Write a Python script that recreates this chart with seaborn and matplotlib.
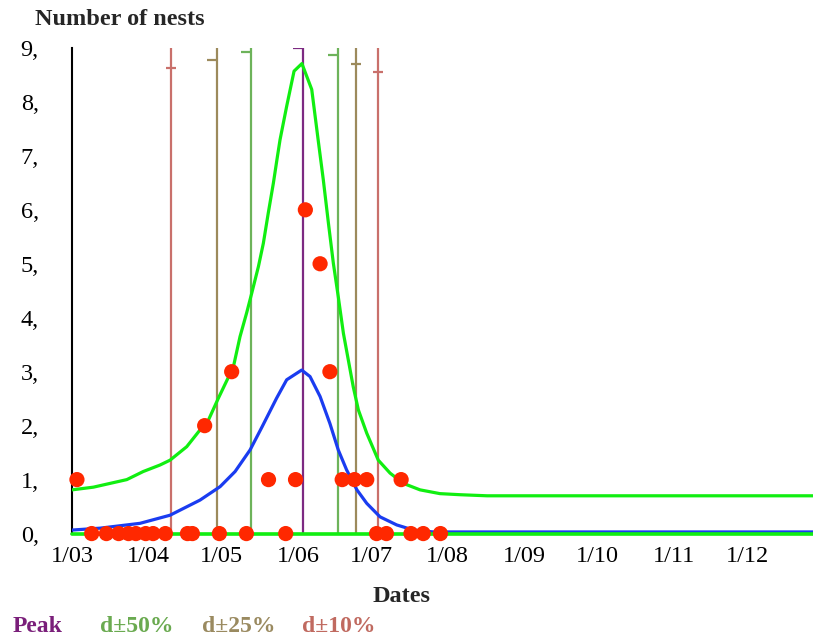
import matplotlib
matplotlib.use('Agg')
import matplotlib.pyplot as plt
import seaborn as sns
import pandas as pd

# jours de l'année (1 = 1er janvier)
tick_days = [60, 91, 121, 152, 182, 213, 244, 274, 305, 335]
tick_labels = ["1/03", "1/04", "1/05", "1/06", "1/07", "1/08", "1/09", "1/10", "1/11", "1/12"]
y_ticks = [0, 1, 2, 3, 4, 5, 6, 7, 8, 9]
y_labels = ["0,", "1,", "2,", "3,", "4,", "5,", "6,", "7,", "8,", "9,"]

# nids observés
obs_days = [68, 74, 79, 83, 86, 90, 93, 98, 107, 109, 120, 131, 147, 184, 188, 198, 203, 210,
            62, 140, 151, 170, 175, 180, 194, 114, 125, 165, 155, 161]
obs_nests = [0, 0, 0, 0, 0, 0, 0, 0, 0, 0, 0, 0, 0, 0, 0, 0, 0, 0,
             1, 1, 1, 1, 1, 1, 1, 2, 3, 3, 6, 5]

# courbe haute (verte)
upper_days = [60, 68.7, 75.5, 82.3, 89.0, 95.8, 99.9, 106.7, 112.1, 115.0, 119.6, 125.7, 128.4,
              131.1, 133.2, 135.9, 137.9, 139.9, 142.0, 143.5, 144.7, 147.4, 150.4, 153.6, 157.6,
              160.2, 162.3, 164.4, 166.4, 168.4, 170.5, 174.5, 176.6, 180.0, 184.7, 189.5, 194.9,
              201.7, 209.8, 218.0, 229.0, 366]
upper_vals = [0.81, 0.86, 0.93, 1.00, 1.15, 1.27, 1.36, 1.61, 1.92, 2.05, 2.51, 3.09, 3.65,
              4.09, 4.46, 4.95, 5.38, 5.94, 6.50, 6.95, 7.30, 7.92, 8.57, 8.71, 8.23,
              7.30, 6.56, 5.75, 5.01, 4.39, 3.71, 2.72, 2.29, 1.86, 1.36, 1.12, 0.93,
              0.81, 0.74, 0.72, 0.70, 0.70]

# courbe moyenne (bleue)
mean_days = [60, 71.4, 82.3, 87.7, 99.9, 112.1, 120.3, 126.4, 132.5, 137.4, 143.3, 147.4, 153.5,
             156.9, 161.0, 165.0, 168.4, 171.8, 176.0, 180.0, 185.4, 192.2, 199.0, 207.1, 366]
mean_vals = [0.065, 0.10, 0.16, 0.19, 0.34, 0.62, 0.87, 1.15, 1.55, 1.98, 2.51, 2.85, 3.03,
             2.91, 2.54, 2.04, 1.55, 1.18, 0.81, 0.56, 0.31, 0.16, 0.065, 0.03, 0.03]

# courbe basse (verte, à zéro)
lower_days = [60, 366]
lower_vals = [0, 0]

# repères : pic et intervalles
mark_names = ["d±10%", "d±25%", "d±50%", "Peak", "d±50%", "d±25%", "d±10%"]
mark_days = [100.2, 119.0, 132.9, 154.2, 168.3, 175.6, 184.7]
mark_levels = [8.63, 8.78, 8.93, 9.0, 8.86, 8.70, 8.56]
mark_styles = ["_", 0, 0, 0, 0, "_", "_"]
couleurs = {"Peak": "#7d2a82", "d±50%": "#6db35a", "d±25%": "#9c8a5c", "d±10%": "#c9706b"}
legend_colors = {"Peak": "#7a1f7a", "d±50%": "#6aaa50", "d±25%": "#9a8a60", "d±10%": "#c06a60"}

sns.set_style("white")
plt.rcParams['font.family'] = ['Liberation Serif', 'DejaVu Serif']

fig = plt.figure(figsize=(8.13, 6.39), dpi=100)
ax = fig.add_axes([0.0886, 0.165, 0.9114, 0.76])

for nom, jour, niveau, style in zip(mark_names, mark_days, mark_levels, mark_styles):
    ax.vlines(jour, 0, 9, colors=couleurs[nom], lw=1.6, zorder=2)
    ax.plot(jour, niveau, marker=style, ms=7, mew=1.6, color=couleurs[nom], zorder=2)

df_upper = pd.DataFrame({"jour": upper_days, "nids": upper_vals})
df_mean = pd.DataFrame({"jour": mean_days, "nids": mean_vals})
df_lower = pd.DataFrame({"jour": lower_days, "nids": lower_vals})
df_obs = pd.DataFrame({"jour": obs_days, "nids": obs_nests})

sns.lineplot(data=df_mean, x="jour", y="nids", color="#1a3cf0", lw=2.3, ax=ax, zorder=3)
sns.lineplot(data=df_upper, x="jour", y="nids", color="#11ee11", lw=2.3, ax=ax, zorder=3)
sns.lineplot(data=df_lower, x="jour", y="nids", color="#11ee11", lw=2.6, ax=ax, zorder=3,
             clip_on=False)
sns.scatterplot(data=df_obs, x="jour", y="nids", color="#ff2800", s=120, edgecolor="none",
                ax=ax, zorder=4, clip_on=False)

ax.set_xlim(60, 361.7)
ax.set_ylim(0, 9)
ax.set_xticks(tick_days)
ax.set_xticklabels(tick_labels)
ax.set_yticks(y_ticks)
ax.set_yticklabels(y_labels)
ax.tick_params(direction="out", length=6, width=1.5, labelsize=17.5, colors="black", pad=3)
ax.tick_params(axis="y", length=5, pad=19)
for cote in ["top", "right"]:
    ax.spines[cote].set_visible(False)
for cote in ["left", "bottom"]:
    ax.spines[cote].set_color("black")
    ax.spines[cote].set_linewidth(1.5)
ax.set_xlabel("")
ax.set_ylabel("")

fig.text(0.043, 0.970, "Number of nests", fontsize=17.5, fontweight="bold", va="center")
fig.text(0.494, 0.066, "Dates", fontsize=17.5, fontweight="bold", va="center", ha="center")

legend_x = [0.015, 0.123, 0.248, 0.371]
for nom, lx in zip(["Peak", "d±50%", "d±25%", "d±10%"], legend_x):
    fig.text(lx, 0.019, nom, fontsize=17, fontweight="bold", color=legend_colors[nom], va="center")

plt.savefig("out.png", dpi=100)
plt.close()
